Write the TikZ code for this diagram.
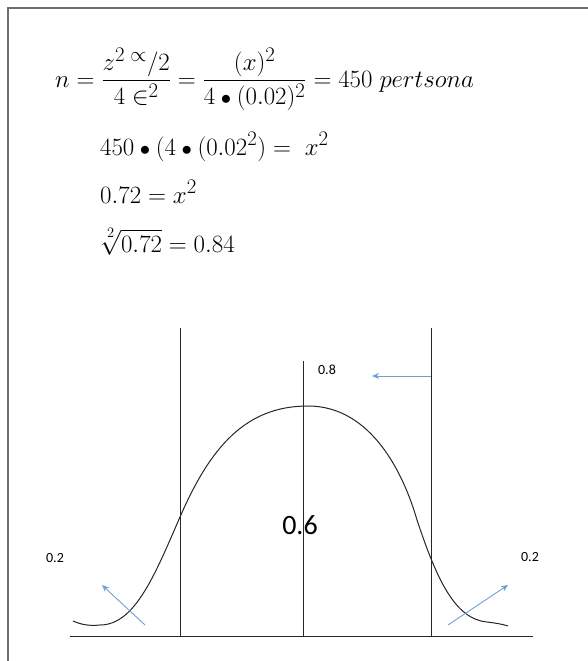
\documentclass[tikz,border=0pt]{standalone}
\usepackage{amsmath}
\usepackage{fontspec}
\newfontfamily\calfont{Carlito}
\usetikzlibrary{arrows.meta}
\definecolor{arrowblue}{RGB}{110,160,210}
\definecolor{framegray}{RGB}{110,110,110}
\tikzset{
  eqn/.style={anchor=base west, inner sep=0pt, font=\fontsize{27.5}{32}\selectfont},
  smalllbl/.style={inner sep=0pt, font=\calfont\fontsize{14}{16}\selectfont},
  biglbl/.style={inner sep=0pt, font=\calfont\fontsize{28}{32}\selectfont},
  vline/.style={line width=1pt, black!85},
  bluearrow/.style={line width=0.9pt, arrowblue, -{Stealth[length=7pt,width=6pt]}},
}
\begin{document}
\begin{tikzpicture}[x=1pt,y=-1pt]
\useasboundingbox (0,0) rectangle (588,661);
% frame
\coordinate (fbl) at (8,661);
\coordinate (ftl) at (8,8);
\coordinate (ftr) at (588,8);
\draw[framegray, line width=1.4pt] (fbl) -- (ftl) -- (ftr);

% equations
\node[eqn] (eq1) at (55,87) {$n=\dfrac{z^{2\;\propto}/2}{4\in^{2}}=\dfrac{(x)^{2}}{4\mathbin{\scriptstyle\bullet}(0.02)^{2}}=450\;pertsona$};
\node[eqn] (eq2) at (100,155) {$450\mathbin{\scriptstyle\bullet}(4\mathbin{\scriptstyle\bullet}(0.02^{2})=\;x^{2}$};
\node[eqn] (eq3) at (100,203) {$0.72=x^{2}$};
\node[eqn] (eq4) at (100,252) {$\sqrt[\uproot{2}2]{0.72}=0.84$};

% axis and vertical lines
\coordinate (axL) at (70,636);
\coordinate (axR) at (533,636);
\draw[line width=1pt, black!85] (axL) -- (axR);
\coordinate (v1t) at (180,328); \coordinate (v1b) at (180,636);
\coordinate (v2t) at (303,361); \coordinate (v2b) at (303,636);
\coordinate (v3t) at (431,328); \coordinate (v3b) at (431,636);
\draw[vline] (v1t) -- (v1b);
\draw[vline] (v2t) -- (v2b);
\draw[vline] (v3t) -- (v3b);

% bell curve
\draw[line width=1pt, black!85]
  (73,621) .. controls (82,625) and (90,626) .. (100,625)
  .. controls (135,625) and (155,574.5) .. (180,517)
  .. controls (210,448) and (245,406) .. (308,406)
  .. controls (372,406) and (404,475) .. (417,520)
  .. controls (437,580) and (455,619) .. (487,622)
  .. controls (495,623) and (502,624) .. (508,626);

% labels
\node[smalllbl] (l08) at (327,370) {0.8};
\node[biglbl] (l06) at (300,525) {0.6};
\node[smalllbl] (l02a) at (55,558) {0.2};
\node[smalllbl] (l02b) at (530,557) {0.2};

% blue arrows
\coordinate (a1s) at (431,376); \coordinate (a1e) at (372,376);
\coordinate (a2s) at (145,625); \coordinate (a2e) at (102,585);
\coordinate (a3s) at (448,625); \coordinate (a3e) at (508,585);
\draw[bluearrow] (a1s) -- (a1e);
\draw[bluearrow] (a2s) -- (a2e);
\draw[bluearrow] (a3s) -- (a3e);
\end{tikzpicture}
\end{document}
